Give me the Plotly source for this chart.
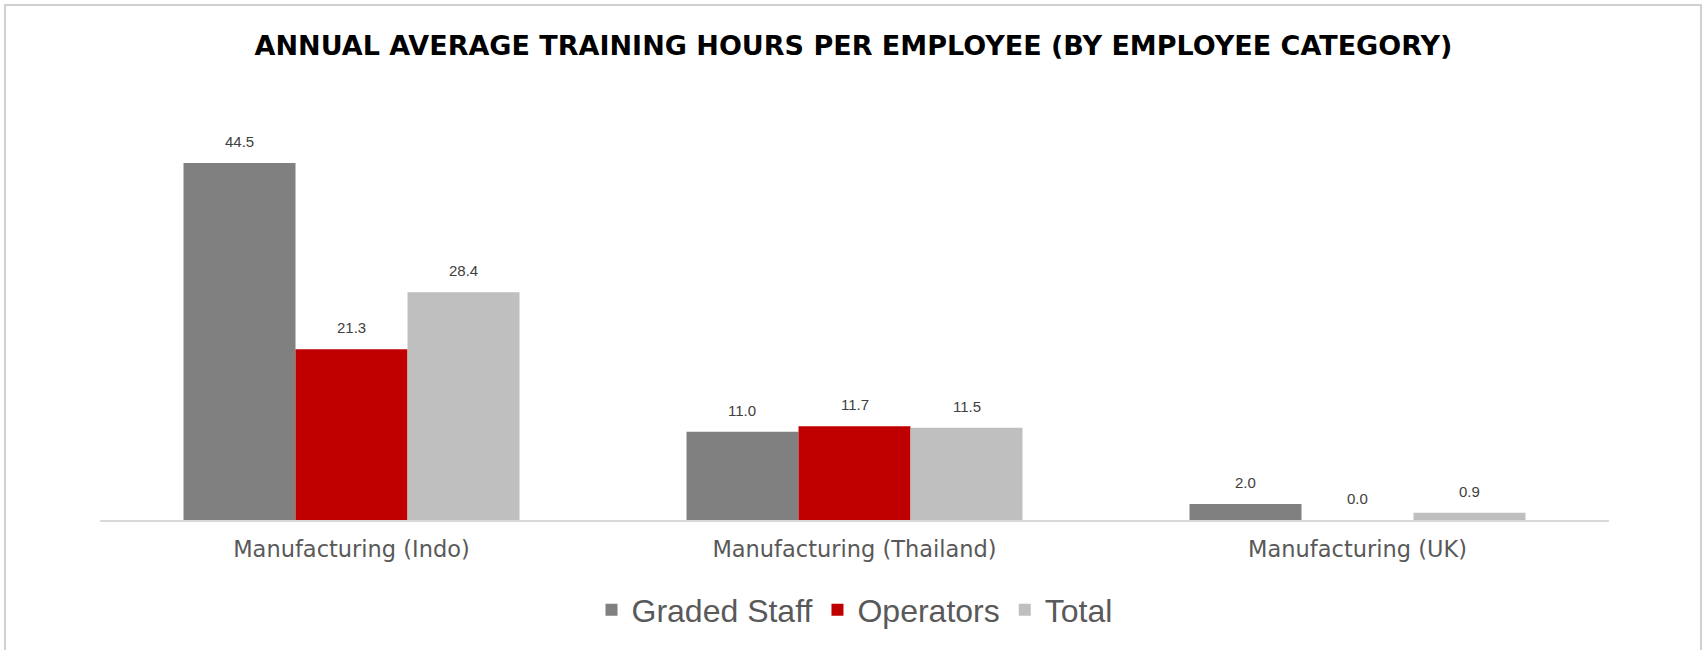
import plotly.graph_objects as go

categories = ["Manufacturing (Indo)", "Manufacturing (Thailand)", "Manufacturing (UK)"]
series_names = ["Graded Staff", "Operators", "Total"]
graded_staff = [44.5, 11.0, 2.0]
operators = [21.3, 11.7, 0.0]
total = [28.4, 11.5, 0.9]
colors = ["#808080", "#C00000", "#BFBFBF"]

series_values = [graded_staff, operators, total]

W, H = 1707, 650
ML, MR, MT, MB = 100, 98, 100, 130
plot_w = W - ML - MR
plot_h = H - MT - MB
BARGAP = 0.332
px_per_unit = 8.02
ymax = plot_h / px_per_unit

fig = go.Figure()
for name, vals, col in zip(series_names, series_values, colors):
    fig.add_trace(go.Bar(
        x=categories, y=vals, name=name,
        marker=dict(color=col, line=dict(width=0)),
        hoverinfo="x+y+name",
    ))

# data labels above bars
bar_px = plot_w / len(categories) * (1 - BARGAP) / len(series_names)
annotations = []
for i, vals in enumerate(series_values):
    for cat, v in zip(categories, vals):
        annotations.append(dict(
            x=cat, y=v, xref="x", yref="y",
            text=f"{v:.1f}", showarrow=False,
            xshift=(i - 1) * bar_px, yshift=11, yanchor="bottom",
            font=dict(family="Liberation Sans, Arial, sans-serif", size=15, color="#404040"),
        ))

fig.update_layout(
    width=W, height=H,
    margin=dict(l=ML, r=MR, t=MT, b=MB),
    paper_bgcolor="white", plot_bgcolor="white",
    barmode="group", bargap=BARGAP, bargroupgap=0,
    title=dict(
        text="ANNUAL AVERAGE TRAINING HOURS PER EMPLOYEE (BY EMPLOYEE CATEGORY)",
        x=0.5, xanchor="center", xref="container",
        y=1 - 46 / H, yanchor="middle", yref="container",
        font=dict(family="DejaVu Sans, sans-serif", size=27, color="#000000", weight=700),
    ),
    xaxis=dict(
        showline=True, linecolor="#d9d9d9", linewidth=2,
        showgrid=False, zeroline=False, ticks="",
        tickfont=dict(family="DejaVu Sans, sans-serif", size=22.5, color="#595959"),
        ticklabelstandoff=8,
        fixedrange=True,
    ),
    yaxis=dict(range=[0, ymax], visible=False, fixedrange=True),
    legend=dict(
        orientation="h", x=0.5, xanchor="center",
        yref="container", y=1 - 610 / H, yanchor="middle",
        font=dict(family="Liberation Sans, Arial, sans-serif", size=32, color="#595959"),
        bgcolor="rgba(0,0,0,0)",
    ),
    annotations=annotations,
    shapes=[dict(
        type="rect", xref="paper", yref="paper",
        x0=(5 - ML) / plot_w, x1=(1701 - ML) / plot_w,
        y0=(H - MB - 660) / plot_h, y1=(H - MB - 5) / plot_h,
        line=dict(color="#d0d0d0", width=2), fillcolor="rgba(0,0,0,0)",
        layer="below",
    )],
)

fig.write_html(
    "out.html",
    config={"displayModeBar": False},
    post_script="document.body.style.margin='0';document.body.style.overflow='hidden';",
)
